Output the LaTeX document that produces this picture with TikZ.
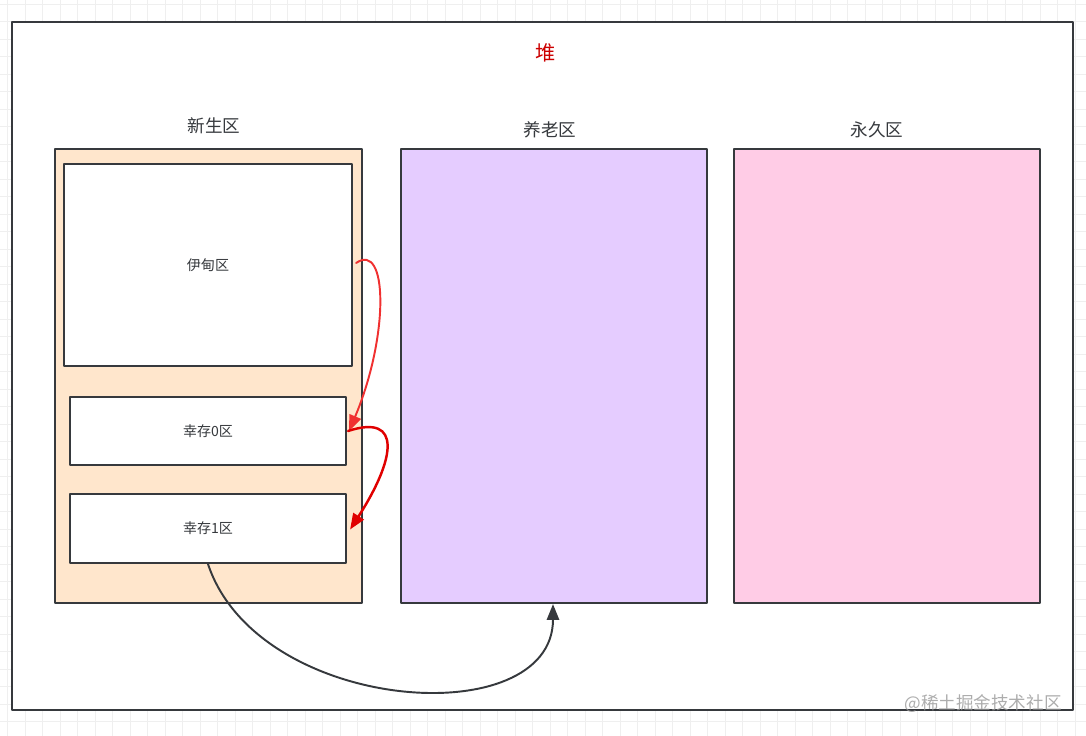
\documentclass[tikz,border=0pt]{standalone}
\usepackage{fontspec}
\newfontfamily\cjk{Noto Sans CJK SC}
\usetikzlibrary{arrows.meta}

\definecolor{linec}{HTML}{36393D}
\definecolor{gridc}{HTML}{EFEFEF}
\definecolor{youngc}{HTML}{FFE6CC}
\definecolor{oldc}{HTML}{E5CCFF}
\definecolor{permc}{HTML}{FFCCE6}
\definecolor{titlec}{HTML}{CC0000}
\definecolor{arrowa}{HTML}{F03030}
\definecolor{arrowb}{HTML}{E00000}

\def\px{0.02cm}

\tikzset{
  zone/.style={
    draw=linec,
    line width=1.25pt,
    inner sep=0pt,
    font=\cjk\fontsize{8pt}{9pt}\selectfont,
    text=linec
  },
  zonelabel/.style={
    font=\cjk\fontsize{10pt}{12pt}\selectfont,
    text=linec
  },
  flow/.style={
    line width=1.1pt,
    -{Triangle[length=9pt,width=7pt]}
  }
}

\begin{document}
\begin{tikzpicture}[
  x=\px,
  y=-\px,
  line cap=round,
  line join=round
]
  % Hintergrund mit Raster
  \useasboundingbox (0,0) rectangle (1086,736);
  \fill[white] (0,0) rectangle (1086,736);
  \foreach \gx in {7.5,25,...,1086}
    \draw[gridc,line width=0.4pt] (\gx,0) -- (\gx,736);
  \foreach \gy in {4,21.5,...,736}
    \draw[gridc,line width=0.4pt] (0,\gy) -- (1086,\gy);

  % Heap
  \node[zone,fill=white,
    minimum width=1061*\px,minimum height=688*\px]
    (heap) at (542.5,366) {};
  \node[font=\cjk\fontsize{11.5pt}{13pt}\selectfont,text=titlec]
    (heaptitle) at (546,53) {堆};

  % Generationen
  \node[zone,fill=youngc,
    minimum width=307*\px,minimum height=454*\px]
    (young) at (208.5,376) {};
  \node[zone,fill=oldc,
    minimum width=306*\px,minimum height=454*\px]
    (old) at (554,376) {};
  \node[zone,fill=permc,
    minimum width=306*\px,minimum height=454*\px]
    (perm) at (887,376) {};

  \node[zonelabel] (younglabel) at (214,126) {新生区};
  \node[zonelabel] (oldlabel) at (550,130) {养老区};
  \node[zonelabel] (permlabel) at (877,130) {永久区};

  % Bereiche im Young
  \node[zone,fill=white,
    minimum width=288*\px,minimum height=202*\px]
    (eden) at (208,265) {伊甸区};
  \node[zone,fill=white,
    minimum width=276*\px,minimum height=68*\px]
    (szero) at (208,431) {幸存0区};
  \node[zone,fill=white,
    minimum width=276*\px,minimum height=69*\px]
    (sone) at (208,528.5) {幸存1区};

  % Pfeile
  \draw[flow,arrowa]
    ([xshift=3*\px,yshift=2*\px]eden.east)
    .. controls +(32,-22) and +(40,-95) ..
    ([xshift=2*\px]szero.east);

  \draw[flow,arrowb,line width=1.4pt]
    ([xshift=1*\px]szero.east)
    .. controls +(55,-18) and +(45,-70) ..
    ([xshift=3*\px,yshift=-1*\px]sone.east);

  \draw[flow,linec]
    (sone.south)
    .. controls +(50,150) and +(0,130) ..
    ([xshift=-1*\px]old.south);

  % Wasserzeichen
  \node[font=\cjk\fontsize{10pt}{12pt}\selectfont,
    text=black!40,opacity=0.8]
    (mark) at (983,704) {@稀土掘金技术社区};
\end{tikzpicture}
\end{document}
